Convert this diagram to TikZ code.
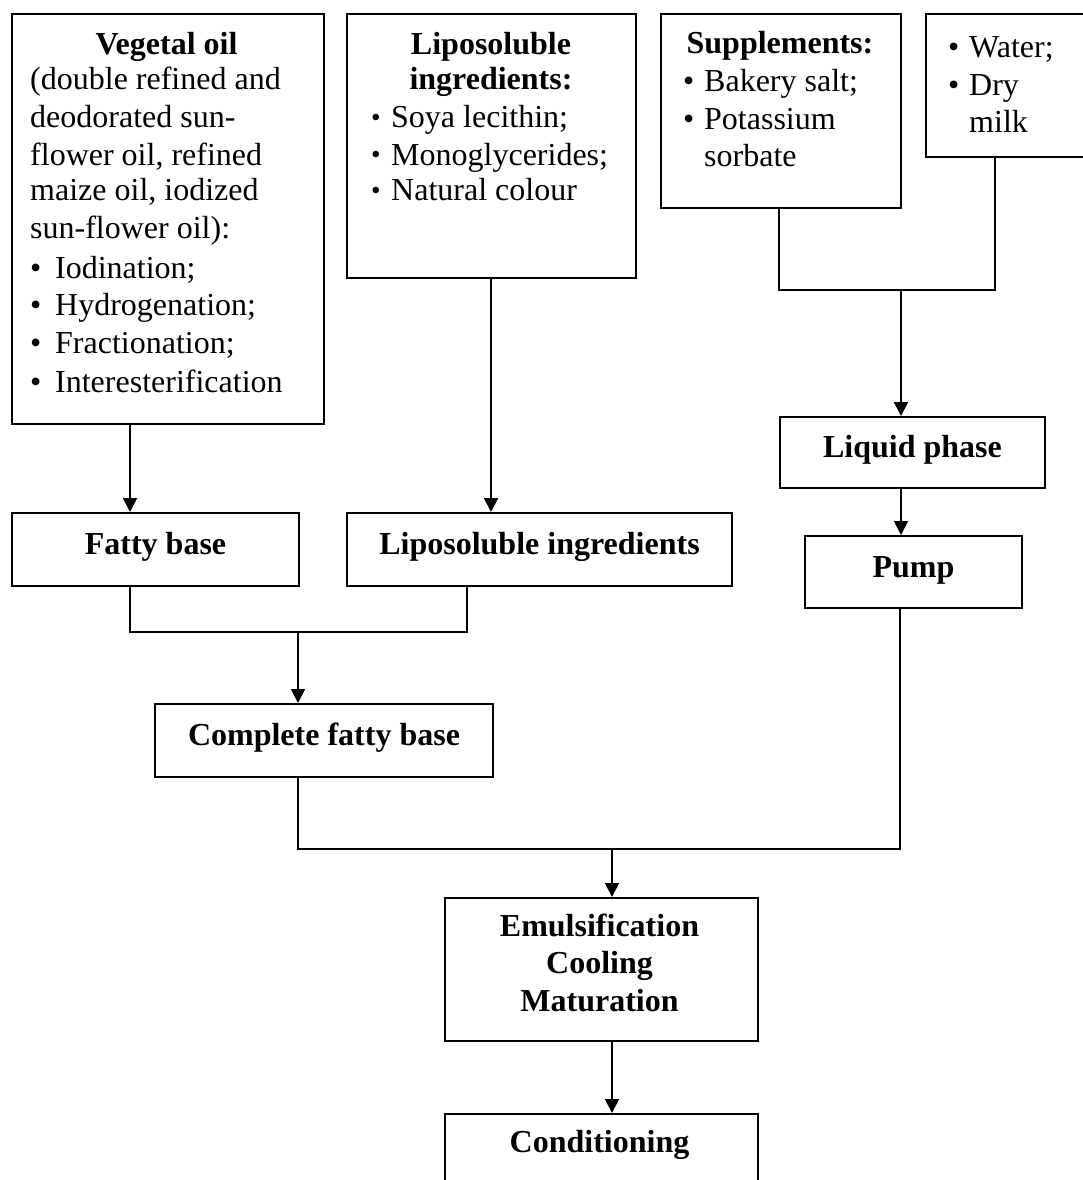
\documentclass[tikz,border=0pt]{standalone}
\usepackage{fontspec}
\setmainfont{Liberation Serif}
\usetikzlibrary{arrows.meta}
\begin{document}
\begin{tikzpicture}[x=1pt,y=-1pt,
  box/.style={draw=black,line width=2pt,rectangle,inner sep=0pt,anchor=north west,
    font=\fontsize{32}{38}\selectfont\bfseries,text height=22pt,text depth=12pt},
  txt/.style={inner sep=0pt,font=\fontsize{32}{38}\selectfont,anchor=base west},
  hd/.style={inner sep=0pt,font=\fontsize{32}{38}\selectfont\bfseries,anchor=base},
  con/.style={draw=black,line width=1.8pt},
  arr/.style={con,-{Triangle[width=14pt,length=14pt]}}]
\useasboundingbox (0,0) rectangle (1083,1180);
\fill[white] (0,0) rectangle (1083,1180);
\newcommand{\bul}{\makebox[25pt][l]{\textbullet}}
\newcommand{\sbul}{\makebox[20pt][l]{\raisebox{1.5pt}{\scalebox{0.85}{\textbullet}}}}
\newcommand{\mbul}{\makebox[21pt][l]{\textbullet}}
% boxes
\node[box,minimum width=312pt,minimum height=410pt] (veg) at (11,13) {};
\node[box,minimum width=289pt,minimum height=264pt] (lipo) at (346,13) {};
\node[box,minimum width=240pt,minimum height=194pt] (supp) at (660,13) {};
\node[box,minimum width=175pt,minimum height=143pt] (water) at (925,13) {};
\node[box,minimum width=287pt,minimum height=73pt] (fatty) at (11,512) {Fatty base};
\node[box,minimum width=385pt,minimum height=73pt] (lipo2) at (346,512) {Liposoluble ingredients};
\node[box,minimum width=265pt,minimum height=71pt] (liquid) at (779,416) {Liquid phase};
\node[box,minimum width=217pt,minimum height=72pt] (pump) at (804,535) {Pump};
\node[box,minimum width=338pt,minimum height=73pt] (complete) at (154,703) {Complete fatty base};
\node[box,minimum width=313pt,minimum height=143pt] (emul) at (444,897) {};
\node[box,minimum width=313pt,minimum height=100pt] (cond) at (444,1113) {};
% texts in Vegetal oil box
\node[hd] (v0) at (166.5,55) {Vegetal oil};
\node[txt] (v1) at (30,90) {(double refined and};
\node[txt] (v2) at (30,127.5) {deodorated sun-};
\node[txt] (v3) at (30,165) {flower oil, refined};
\node[txt] (v4) at (30,200.5) {maize oil, iodized};
\node[txt] (v5) at (30,238) {sun-flower oil):};
\node[txt] (v6) at (30,278) {\bul Iodination;};
\node[txt] (v7) at (30,315.5) {\bul Hydrogenation;};
\node[txt] (v8) at (30,353.5) {\bul Fractionation;};
\node[txt] (v9) at (30,392.5) {\bul Interesterification};
% Liposoluble box
\node[hd] (l0) at (491,55) {Liposoluble};
\node[hd] (l1) at (491,90) {ingredients:};
\node[txt] (l2) at (371,128) {\sbul Soya lecithin;};
\node[txt] (l3) at (371,165) {\sbul Monoglycerides;};
\node[txt] (l4) at (371,200.5) {\sbul Natural colour};
% Supplements box
\node[hd] (s0) at (780,54) {Supplements:};
\node[txt] (s1) at (683,92) {\mbul Bakery salt;};
\node[txt] (s2) at (683,130) {\mbul Potassium};
\node[txt] (s3) at (704,166) {sorbate};
% Water box
\node[txt] (w1) at (948,58) {\mbul Water;};
\node[txt] (w2) at (948,96) {\mbul Dry};
\node[txt] (w3) at (969,132) {milk};
% Emulsification box
\node[hd] (e1) at (599.5,936) {Emulsification};
\node[hd] (e2) at (599.5,973.5) {Cooling};
\node[hd] (e3) at (599.5,1011) {Maturation};
\node[hd] (c1) at (599.5,1152) {Conditioning};
% helper coordinates
\coordinate (xa) at (130,0);
\coordinate (xb) at (491,0);
\coordinate (xc) at (779,0);
\coordinate (xd) at (995,0);
\coordinate (xe) at (901,0);
\coordinate (xf) at (467,0);
\coordinate (xg) at (298,0);
\coordinate (xh) at (612,0);
\coordinate (xi) at (900,0);
\coordinate (j1) at (0,290);
\coordinate (j2) at (0,632);
\coordinate (j3) at (0,849);
% connectors
\draw[arr] (veg.south -| xa) -- (fatty.north -| xa);
\draw[arr] (lipo.south -| xb) -- (lipo2.north -| xb);
\draw[con] (supp.south -| xc) -- (xc |- j1) -- (xd |- j1) -- (water.south -| xd);
\draw[arr] (xe |- j1) -- (liquid.north -| xe);
\draw[arr] (liquid.south -| xe) -- (pump.north -| xe);
\draw[con] (fatty.south -| xa) -- (xa |- j2) -- (xf |- j2) -- (lipo2.south -| xf);
\draw[arr] (xg |- j2) -- (complete.north -| xg);
\draw[con] (complete.south -| xg) -- (xg |- j3) -- (xi |- j3) -- (pump.south -| xi);
\draw[arr] (xh |- j3) -- (emul.north -| xh);
\draw[arr] (emul.south -| xh) -- (cond.north -| xh);
\end{tikzpicture}
\end{document}
